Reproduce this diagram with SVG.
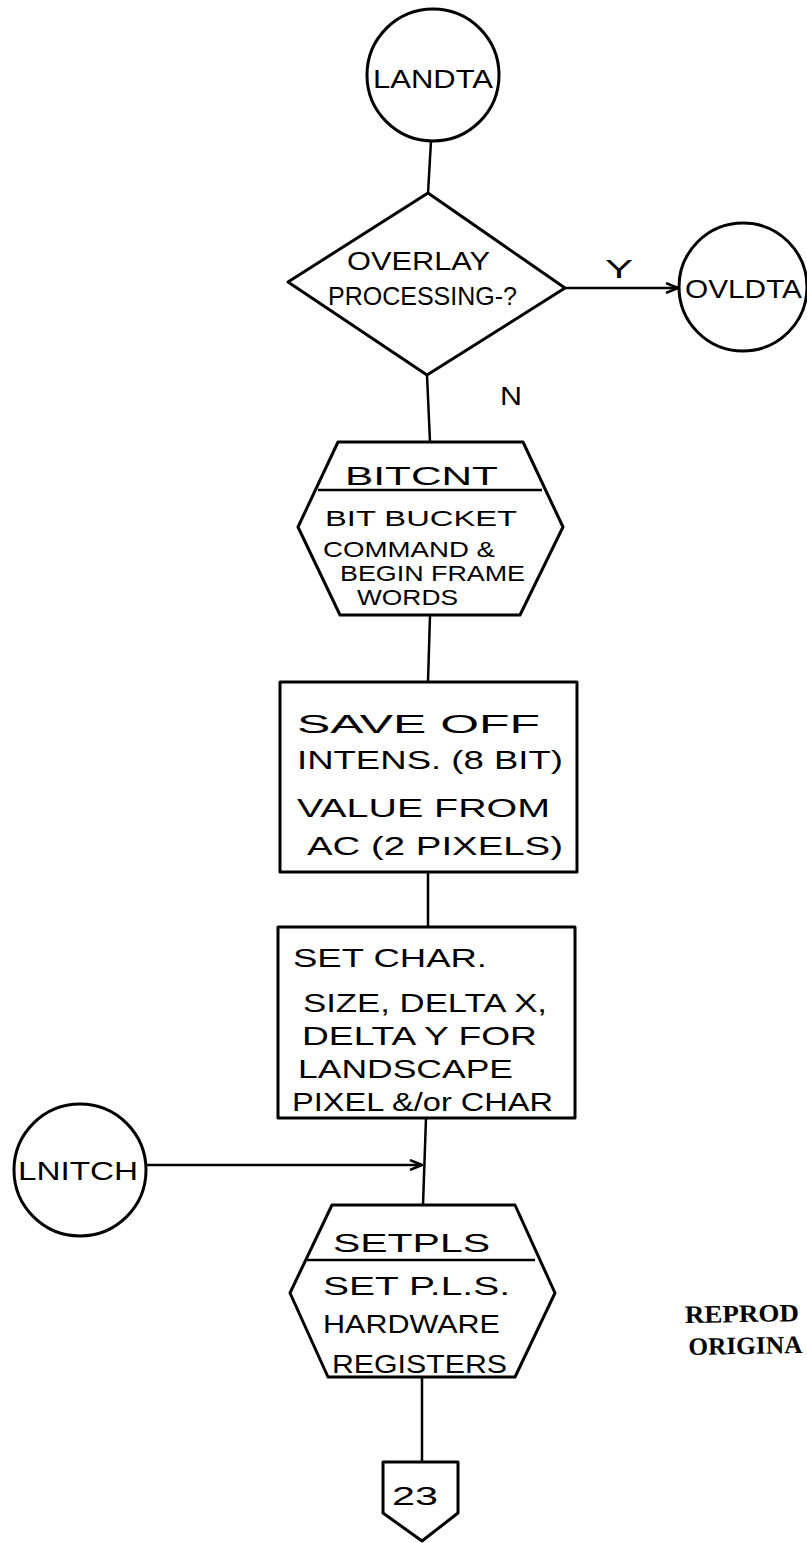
<svg xmlns="http://www.w3.org/2000/svg" width="807" height="1543" viewBox="0 0 807 1543">
  <style>
    .shape { fill: none; stroke: #000; stroke-width: 3; stroke-linejoin: round; }
    .rule { fill: none; stroke: #000; stroke-width: 2.5; }
    .wire { fill: none; stroke: #000; stroke-width: 2.5; }
    .hand { font-family: "Liberation Sans", "DejaVu Sans", sans-serif; fill: #000; font-size: 26px; }
    .small { font-size: 22px; }
    .stamp { font-family: "Liberation Serif", "DejaVu Serif", serif; font-weight: bold; fill: #000; font-size: 25px; }
  </style>
  <defs>
    <marker id="open-arrow" viewBox="0 0 14 12" refX="13" refY="6" markerWidth="14" markerHeight="12" markerUnits="userSpaceOnUse" orient="auto">
      <path d="M1,1 L13,6 L1,11" fill="none" stroke="#000" stroke-width="2.5"/>
    </marker>
  </defs>
  <rect width="807" height="1543" fill="#fff"/>

  <!-- connectors -->
  <g id="connectors">
    <line class="wire" x1="431" y1="141" x2="428" y2="193"/>
    <line class="wire" x1="565" y1="288" x2="678" y2="288" marker-end="url(#open-arrow)"/>
    <line class="wire" x1="427" y1="375" x2="430" y2="442"/>
    <line class="wire" x1="430" y1="615" x2="428" y2="682"/>
    <line class="wire" x1="428" y1="872" x2="428" y2="927"/>
    <line class="wire" x1="426" y1="1118" x2="423" y2="1205"/>
    <line class="wire" x1="146" y1="1165" x2="422" y2="1165" marker-end="url(#open-arrow)"/>
    <line class="wire" x1="422" y1="1377" x2="422" y2="1462"/>
    <text class="hand" x="605" y="278" font-size="40" textLength="28" lengthAdjust="spacingAndGlyphs">Y</text>
    <text class="hand" x="500" y="405" font-size="30" textLength="22" lengthAdjust="spacingAndGlyphs">N</text>
  </g>

  <!-- entry terminal -->
  <g id="landta">
    <circle class="shape" cx="433" cy="75" r="66"/>
    <text class="hand" x="373" y="88" font-size="34" textLength="120" lengthAdjust="spacingAndGlyphs">LANDTA</text>
  </g>

  <!-- overlay decision -->
  <g id="overlay-decision">
    <polygon class="shape" points="428,193 565,288 427,375 288,282"/>
    <text class="hand" x="347" y="270" textLength="143" lengthAdjust="spacingAndGlyphs">OVERLAY</text>
    <text class="hand" x="328" y="305" textLength="189" lengthAdjust="spacingAndGlyphs">PROCESSING-?</text>
  </g>

  <g id="ovldta">
    <circle class="shape" cx="743" cy="287" r="64"/>
    <text class="hand" x="685" y="298" font-size="29" textLength="117" lengthAdjust="spacingAndGlyphs">OVLDTA</text>
  </g>

  <!-- subroutine call BITCNT -->
  <g id="bitcnt">
    <polygon class="shape" points="338,442 523,442 563,527 520,615 340,615 298,527"/>
    <line class="rule" x1="318" y1="490" x2="542" y2="490"/>
    <text class="hand" x="345" y="485" font-size="32" textLength="153" lengthAdjust="spacingAndGlyphs">BITCNT</text>
    <text class="hand small" x="325" y="526" textLength="192" lengthAdjust="spacingAndGlyphs">BIT BUCKET</text>
    <text class="hand small" x="323" y="557" textLength="172" lengthAdjust="spacingAndGlyphs">COMMAND &amp;</text>
    <text class="hand small" x="340" y="581" textLength="185" lengthAdjust="spacingAndGlyphs">BEGIN FRAME</text>
    <text class="hand small" x="357" y="605" textLength="101" lengthAdjust="spacingAndGlyphs">WORDS</text>
  </g>

  <g id="save-intensity">
    <rect class="shape" x="280" y="682" width="297" height="190"/>
    <text class="hand" x="297" y="733" textLength="243" lengthAdjust="spacingAndGlyphs">SAVE  OFF</text>
    <text class="hand" x="297" y="769" textLength="266" lengthAdjust="spacingAndGlyphs">INTENS. (8 BIT)</text>
    <text class="hand" x="297" y="817" textLength="253" lengthAdjust="spacingAndGlyphs">VALUE  FROM</text>
    <text class="hand" x="307" y="855" textLength="256" lengthAdjust="spacingAndGlyphs">AC (2 PIXELS)</text>
  </g>

  <g id="set-char-size">
    <rect class="shape" x="278" y="927" width="297" height="191"/>
    <text class="hand" x="293" y="967" textLength="194" lengthAdjust="spacingAndGlyphs">SET CHAR.</text>
    <text class="hand" x="303" y="1012" textLength="244" lengthAdjust="spacingAndGlyphs">SIZE, DELTA X,</text>
    <text class="hand" x="302" y="1045" textLength="235" lengthAdjust="spacingAndGlyphs">DELTA Y  FOR</text>
    <text class="hand" x="298" y="1078" textLength="215" lengthAdjust="spacingAndGlyphs">LANDSCAPE</text>
    <text class="hand" x="292" y="1111" textLength="261" lengthAdjust="spacingAndGlyphs">PIXEL &amp;/or CHAR</text>
  </g>

  <g id="lnitch">
    <circle class="shape" cx="80" cy="1170" r="66"/>
    <text class="hand" x="18" y="1180" font-size="29" textLength="120" lengthAdjust="spacingAndGlyphs">LNITCH</text>
  </g>

  <!-- subroutine call SETPLS -->
  <g id="setpls">
    <polygon class="shape" points="332,1205 515,1205 555,1293 515,1377 328,1377 290,1293"/>
    <line class="rule" x1="307" y1="1260" x2="535" y2="1260"/>
    <text class="hand" x="333" y="1252" font-size="30" textLength="157" lengthAdjust="spacingAndGlyphs">SETPLS</text>
    <text class="hand" x="323" y="1295" textLength="187" lengthAdjust="spacingAndGlyphs">SET P.L.S.</text>
    <text class="hand" x="323" y="1333" textLength="177" lengthAdjust="spacingAndGlyphs">HARDWARE</text>
    <text class="hand" x="332" y="1373" textLength="175" lengthAdjust="spacingAndGlyphs">REGISTERS</text>
  </g>

  <!-- off-page connector -->
  <g id="offpage-23">
    <polygon class="shape" points="383,1462 458,1462 458,1513 422,1541 383,1513"/>
    <text class="hand" x="392" y="1505" font-size="36" textLength="46" lengthAdjust="spacingAndGlyphs">23</text>
  </g>

  <g id="stamp" transform="rotate(-1 745 1325)">
    <text class="stamp" x="685" y="1322" textLength="114" lengthAdjust="spacingAndGlyphs">REPROD</text>
    <text class="stamp" x="688" y="1354" textLength="114" lengthAdjust="spacingAndGlyphs">ORIGINA</text>
  </g>
</svg>
